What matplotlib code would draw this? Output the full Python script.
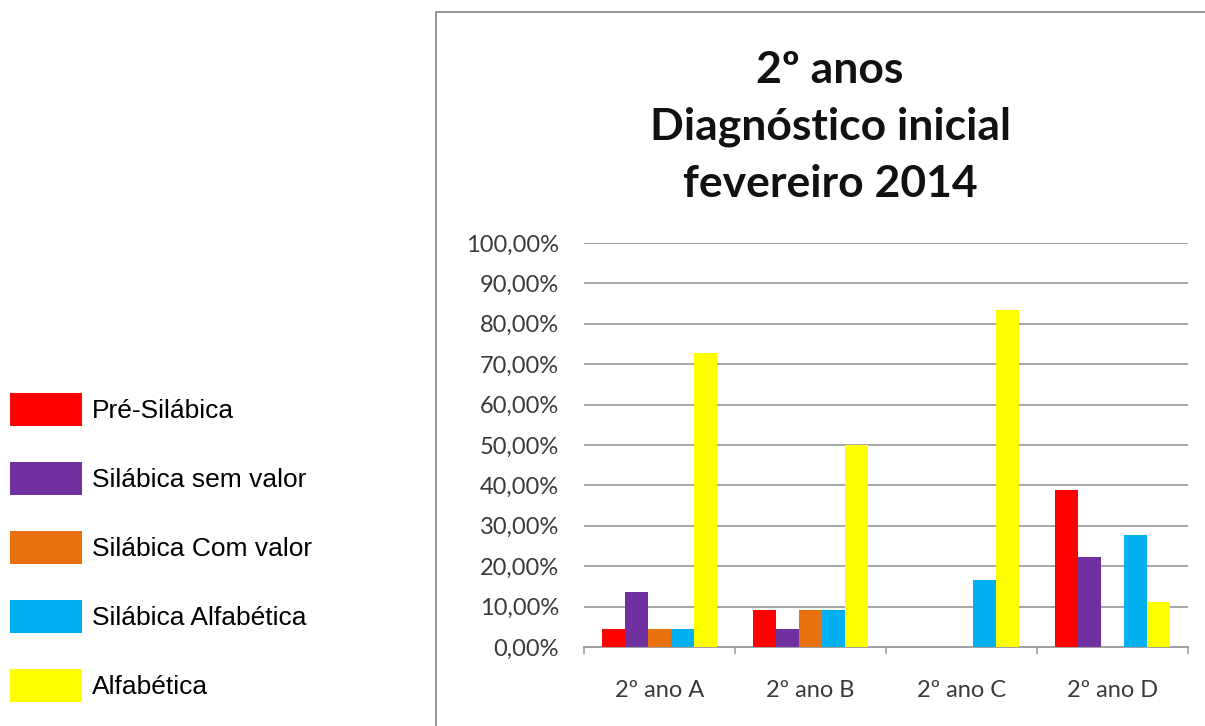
import numpy as np
import matplotlib.pyplot as plt
from matplotlib.patches import Rectangle, Patch
from matplotlib.ticker import FuncFormatter, FixedLocator

# turmas e niveis de escrita
turmas = ["2º ano A", "2º ano B", "2º ano C", "2º ano D"]
niveis = ["Pré-Silábica", "Silábica sem valor", "Silábica Com valor",
          "Silábica Alfabética", "Alfabética"]

pre_silabica = [4.55, 9.09, 0.0, 38.89]
silabica_sem_valor = [13.64, 4.55, 0.0, 22.22]
silabica_com_valor = [4.55, 9.09, 0.0, 0.0]
silabica_alfabetica = [4.55, 9.09, 16.67, 27.78]
alfabetica = [72.73, 50.00, 83.33, 11.11]

series = [pre_silabica, silabica_sem_valor, silabica_com_valor,
          silabica_alfabetica, alfabetica]
cores = ["#FF0000", "#7030A0", "#E8700F", "#00B0F0", "#FFFF00"]

fig = plt.figure(figsize=(12.05, 7.26), dpi=100)
fig.patch.set_facecolor("white")

# moldura do grafico (sai pela direita e por baixo)
fig.patches.append(Rectangle((436 / 1205, -0.2), 1.0, 1.2 - 12 / 726,
                             transform=fig.transFigure, fill=False,
                             edgecolor="#8c8c8c", linewidth=1.3))

ax = fig.add_axes([584 / 1205, 1 - 647 / 726, 604 / 1205, (647 - 243) / 726])

x = np.arange(len(turmas))
w = 0.151
for i, (vals, cor) in enumerate(zip(series, cores)):
    ax.bar(x + (i - 2) * w, vals, width=w, color=cor, zorder=3)

ax.set_xlim(-0.5, 3.5)
ax.set_ylim(0, 100)
ax.set_yticks(np.arange(0, 101, 10))
ax.yaxis.set_major_formatter(FuncFormatter(lambda v, p: f"{v:.2f}%".replace(".", ",")))
ax.grid(axis="y", color="#a6a6a6", linewidth=1.4, zorder=0)

ax.set_xticks(x)
ax.set_xticklabels(turmas)
ax.xaxis.set_minor_locator(FixedLocator(np.arange(-0.5, 3.6, 1)))
ax.tick_params(axis="x", which="major", length=0, pad=24)
ax.tick_params(axis="x", which="minor", length=5, color="#a0a0a0", width=1.2)
ax.tick_params(axis="y", length=0, pad=18)
for lab in ax.get_xticklabels() + ax.get_yticklabels():
    lab.set_fontfamily("Lato")
    lab.set_fontsize(17)
    lab.set_color("#3a3a3a")

for s in ["top", "right", "left"]:
    ax.spines[s].set_visible(False)
ax.spines["bottom"].set_color("#a0a0a0")
ax.spines["bottom"].set_linewidth(1.4)

# titulo
fig.text(830 / 1205, 1 - 127 / 726,
         "2º anos\nDiagnóstico inicial\nfevereiro 2014",
         ha="center", va="center", fontsize=32, fontweight="bold",
         family="Lato", linespacing=1.5, color="#111111")

# legenda a esquerda
handles = [Patch(facecolor=c, edgecolor="none") for c in cores]
fig.legend(handles, niveis, loc="upper left",
           bbox_to_anchor=(10 / 1205, 1 - 393 / 726),
           frameon=False, prop={"family": "Liberation Sans", "size": 19},
           handlelength=2.73, handleheight=1.55, handletextpad=0.38,
           labelspacing=1.36, borderaxespad=0, borderpad=0)

fig.savefig("out.png", dpi=100)
